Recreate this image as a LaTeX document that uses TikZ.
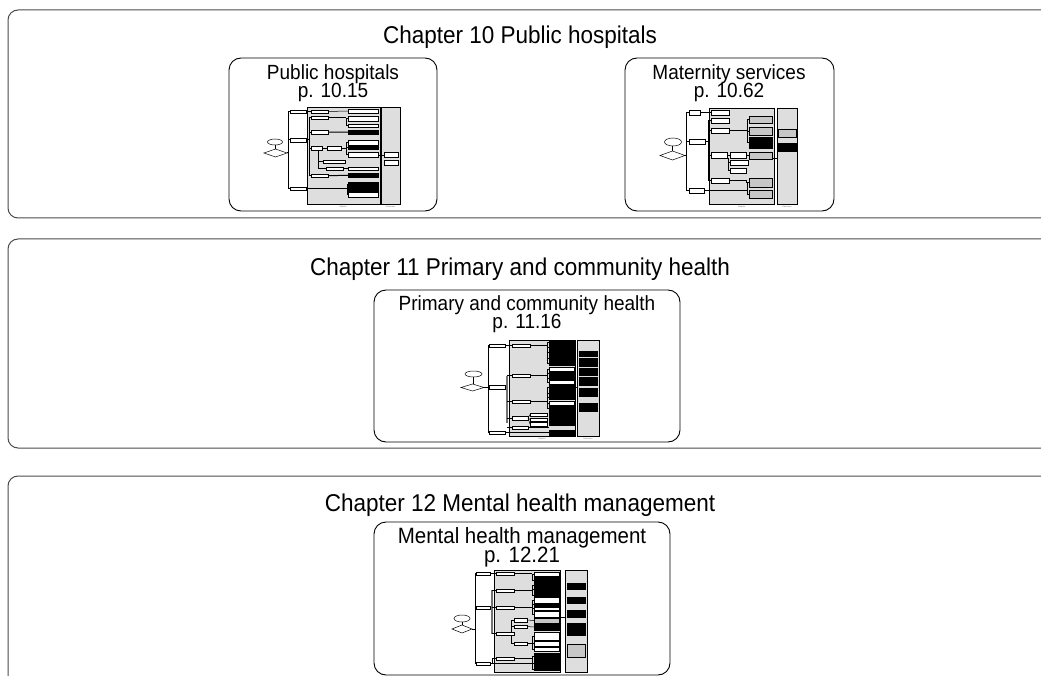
\documentclass[tikz,border=0pt]{standalone}
\usepackage{fontspec}
\setmainfont{Liberation Sans}
\newcommand\thW[4]{\draw[thw] (#1,#2) rectangle (#3,#4);}
\newcommand\thB[4]{\draw[thb] (#1,#2) rectangle (#3,#4);}
\newcommand\thG[4]{\draw[thg] (#1,#2) rectangle (#3,#4);}
\newcommand\tallT[1]{\scalebox{1}[1.08]{#1}}
\begin{document}
\begin{tikzpicture}[x=1pt,y=-1pt,
 panel/.style={draw=black!70, line width=1pt, rounded corners=10pt},
 subbox/.style={draw=black, line width=0.9pt, rounded corners=12pt, fill=white},
 chap/.style={font=\fontsize{22.5}{26}\selectfont, anchor=base, inner sep=0pt},
 sub/.style={font=\fontsize{19}{20}\selectfont, anchor=base, inner sep=0pt},
 thw/.style={draw=black, fill=white, line width=0.4pt},
 thb/.style={draw=black, fill=black, line width=0.4pt},
 thg/.style={draw=black, fill=black!22, line width=0.4pt},
 thl/.style={line width=0.5pt},
 thk/.style={line width=1pt},
 thgr/.style={line width=1.6pt, draw=black!55},
 pan/.style={draw=black, fill=black!13, line width=0.5pt},
 tinyt/.style={font=\fontsize{2}{2}\selectfont, inner sep=0pt, text=black!60}]
\useasboundingbox (0,0) rectangle (1041,676);
\clip (0,0) rectangle (1041,676);
\fill[white] (0,0) rectangle (1041,676);

% ---------- outer chapter panels ----------
\draw[panel] (1060,10) -- (8,10) -- (8,218) -- (1060,218);
\draw[panel] (1060,239) -- (8,239) -- (8,448) -- (1060,448);
\draw[panel] (1060,476) -- (8,476) -- (8,700);

\node[chap] (c10) at (520,44) {\tallT{Chapter 10 Public hospitals}};
\node[chap] (c11) at (520,276) {\tallT{Chapter 11 Primary and community health}};
\node[chap] (c12) at (520,511) {\tallT{Chapter 12 Mental health management}};

% ---------- sub boxes ----------
\node[subbox, minimum width=208pt, minimum height=153pt] (b1) at (333,134.5) {};
\node[subbox, minimum width=209pt, minimum height=153pt] (b2) at (729.5,134.5) {};
\node[subbox, minimum width=306pt, minimum height=152pt] (b3) at (527,366) {};
\node[subbox, minimum width=296pt, minimum height=153pt] (b4) at (522,598.5) {};

\node[sub] (t1a) at (333,79.5) {\tallT{Public hospitals}};
\node[sub] (t1b) at (333,97.5) {\tallT{p. 10.15}};
\node[sub] (t2a) at (729,79.5) {\tallT{Maternity services}};
\node[sub] (t2b) at (729,97.5) {\tallT{p. 10.62}};
\node[sub] (t3a) at (527,310.5) {\tallT{Primary and community health}};
\node[sub] (t3b) at (527,328.5) {\tallT{p. 11.16}};
\node[sub, font=\fontsize{20.5}{21}\selectfont] (t4a) at (522,543) {\tallT{Mental health management}};
\node[sub, font=\fontsize{20.5}{21}\selectfont] (t4b) at (522,562) {\tallT{p. 12.21}};

% ---------- thumbnail 1: public hospitals ----------
\draw[pan] (307,107) rectangle (380,204);
\draw[pan] (381,107) rectangle (400,204);
\node[tinyt] at (343,207) {Outputs};
\node[tinyt] at (390.5,207) {Outcomes};
\draw[thl,fill=white] (275,142) ellipse (7.5 and 3);
\draw[thl] (275.5,145) -- (275.5,149);
\draw[thl,fill=white] (264,153) -- (275.5,149) -- (287,153) -- (275.5,157) -- cycle;
\draw[thk] (287,153) -- (288,153);
\draw[thk] (290,111.75) -- (288,111.75) -- (288,188.75) -- (290,188.75);
\draw[thk] (288,140) -- (290,140);
\thW{290}{110}{306}{113.5}
\thW{290}{138}{306}{142}
\thW{290}{187}{306}{190.5}
\draw[thl] (306,111.75) -- (311,111.75);
\draw[thk] (306,140) -- (309,140);
\draw[thl] (309,117.75) -- (309,175.75);
\foreach \yy in {117.75,132,148,175.75} \draw[thl] (309,\yy) -- (311,\yy);
\thW{311}{110}{328}{113.5}
\thW{311}{116}{328}{119.5}
\thW{311}{130}{328}{134}
\thW{311}{146}{322}{150}
\thW{311}{174}{328}{177.5}
\draw[thl] (322,148) -- (327,148);
\draw[thl] (318,150) -- (318,168.75) -- (326,168.75);
\draw[thl] (318,161.75) -- (323,161.75);
\thW{327}{146}{341}{150}
\thW{323}{160}{345}{163.5}
\thW{326}{167}{343}{170.5}
\draw[thl] (328,111.5) -- (348,111);
\draw[thl] (328,117.75) -- (346,117.75);
\draw[thl] (346,118.5) -- (346,125.75);
\foreach \yy in {118.5,125.75} \draw[thl] (346,\yy) -- (348,\yy);
\draw[thk] (328,132) -- (348,132.25);
\draw[thl] (341,148) -- (346,148);
\draw[thl] (346,142.5) -- (346,154.5);
\foreach \yy in {142.5,147.75,154.5} \draw[thl] (346,\yy) -- (348,\yy);
\draw[thl] (343,168.75) -- (348,168.75);
\draw[thk] (328,175.75) -- (348,175.25);
\draw[thk] (306,188.75) -- (347,188.75);
\draw[thl] (347,184) -- (347,194.5);
\foreach \yy in {184,194.5} \draw[thl] (347,\yy) -- (348,\yy);
\thW{348}{109}{378}{113}
\thW{348}{116}{378}{121}
\thW{348}{124}{378}{127.5}
\thB{348}{130}{378}{134.5}
\thW{348}{140}{378}{145}
\thB{348}{146}{378}{149.5}
\thW{348}{152}{378}{157}
\thW{348}{167}{378}{170.5}
\thB{348}{173}{378}{177.5}
\thB{348}{182}{378}{186}
\thB{348}{187}{378}{191}
\thW{348}{192}{378}{197}
\draw[thl] (378,155) -- (384,155);
\thW{384}{152}{398}{157}
\thW{384}{160}{398}{165}

% ---------- thumbnail 2: maternity ----------
\draw[pan] (709,108) rectangle (774,204);
\draw[pan] (777,108) rectangle (797,204);
\node[tinyt] at (741.5,207) {Outputs};
\node[tinyt] at (787,207) {Outcomes};
\draw[thl,fill=white] (673,142) ellipse (8.5 and 4);
\draw[thl] (672.5,146) -- (672.5,151);
\draw[thl,fill=white] (660,155.5) -- (672.5,151) -- (685,155.5) -- (672.5,160) -- cycle;
\draw[thk] (685,155.5) -- (686,155.5);
\draw[thk] (689,112.5) -- (686,112.5) -- (686,190.5) -- (689,190.5);
\draw[thk] (686,141.5) -- (689,141.5);
\thW{689}{110}{700}{115}
\thW{689}{139}{705}{144}
\thW{689}{188}{704}{193}
\draw[thl] (700,112.5) -- (711,112.5);
\draw[thk] (705,141.5) -- (708,141.5);
\draw[thk] (708,120.5) -- (708,180.5);
\foreach \yy in {120.5,130.5,155,180.5} \draw[thl] (708,\yy) -- (711,\yy);
\thW{711}{110}{729}{115}
\thW{711}{118}{729}{123}
\thW{711}{128}{729}{133}
\thW{711}{152}{727}{158}
\thW{711}{178}{729}{183}
\draw[thl] (727,155) -- (730,155);
\draw[thl] (728,158) -- (728,170.5) -- (730,170.5);
\draw[thl] (728,162.5) -- (730,162.5);
\thW{730}{152}{746}{158}
\thW{730}{160}{748}{165}
\thW{730}{168}{746}{173}
\draw[thk] (729,130.5) -- (747,130.5);
\draw[thk] (747,119.5) -- (747,142.5);
\foreach \yy in {119.5,131,142.5} \draw[thl] (747,\yy) -- (749,\yy);
\draw[thl] (746,155.5) -- (749,155.5);
\draw[thl] (729,180.5) -- (746,180.5) -- (746,182.5) -- (749,182.5);
\draw[line width=1.4pt] (704,190.5) -- (747,190.5);
\draw[thk] (747,182.5) -- (747,194);
\draw[thl] (747,194) -- (749,194);
\thG{749}{116}{772}{123}
\thG{749}{127}{772}{135}
\thB{749}{137}{772}{148}
\thG{749}{152}{772}{159}
\thG{749}{178}{772}{187}
\thG{749}{190}{772}{198}
\draw[thl] (772,158.5) -- (778,158.5);
\thG{778}{129}{796}{137}
\thB{778}{143}{796}{151}

% ---------- thumbnail 3: primary and community health ----------
\draw[pan] (509,340) rectangle (575,436);
\draw[pan] (577,340) rectangle (599,436);
\node[tinyt] at (542,439) {Outputs};
\node[tinyt] at (588,439) {Outcomes};
\draw[thl,fill=white] (473.5,374) ellipse (8.5 and 3);
\draw[thl] (473,377) -- (473,384);
\draw[thl,fill=white] (461,387.5) -- (472.5,384) -- (484,387.5) -- (472.5,391) -- cycle;
\draw[thk] (484,387.5) -- (488,387.5);
\draw[thk] (489,345.5) -- (488,345.5) -- (488,432.5) -- (489,432.5);
\thW{489}{344}{505}{347}
\thW{489}{385}{505}{389}
\thW{489}{431}{505}{434}
\draw[thl] (505,345.5) -- (512,345.5);
\draw[thk] (505,387) -- (507,387);
\draw[thgr] (507,375.5) -- (507,423);
\foreach \yy in {375.5,401.5,418,427.5} \draw[thl] (507,\yy) -- (512,\yy);
\thW{512}{344}{530}{347}
\thW{512}{374}{530}{377}
\thW{512}{400}{530}{403}
\thW{512}{416}{528}{420}
\thW{512}{426}{528}{429}
\draw[thl] (528,418) -- (530,414.5);
\draw[thl] (528,418) -- (530,419.5);
\draw[thl] (528,418) -- (530,424);
\thW{530}{413}{547}{416}
\thW{530}{418}{547}{421}
\thW{530}{422}{547}{426}
\draw[thk] (530,345.5) -- (547,345.5);
\draw[thl] (547,342) -- (547,363);
\foreach \yy in {342,347.5,352.5,358,363} \draw[thl] (547,\yy) -- (549,\yy);
\draw[thk] (530,375.5) -- (547,375.5);
\draw[thl] (547,369) -- (547,382);
\foreach \yy in {369,373,378,382} \draw[thl] (547,\yy) -- (549,\yy);
\draw[thk] (530,401.5) -- (547,401.5);
\draw[thl] (547,387.5) -- (547,408.5);
\foreach \yy in {387.5,393,397,403,408.5} \draw[thl] (547,\yy) -- (549,\yy);
\draw[thl] (528,427.5) -- (549,427.5);
\draw[thk] (505,432.5) -- (549,432.5);
\thB{549}{340}{574}{344}
\thB{549}{345}{574}{350}
\thB{549}{350.5}{574}{355}
\thB{549}{356}{574}{360}
\thB{549}{361}{574}{365}
\thW{549}{367}{574}{371}
\thB{549}{371.5}{574}{375}
\thB{549}{376}{574}{380}
\thW{549}{380.5}{574}{384}
\thB{549}{385}{574}{390}
\thB{549}{391}{574}{395}
\thB{549}{395.5}{574}{399}
\thW{549}{401}{574}{405}
\thB{549}{406}{574}{411}
\thB{549}{412}{574}{416}
\thB{549}{416.5}{574}{420}
\thB{549}{421}{574}{425}
\thB{549}{430}{574}{435}
\draw[thl] (574,387) -- (577,387);
\thB{579}{351}{597}{356}
\thB{579}{358}{597}{366}
\thB{579}{368}{597}{375}
\thB{579}{377}{597}{385}
\thB{579}{388}{597}{396}
\thB{579}{403}{597}{411}

% ---------- thumbnail 4: mental health ----------
\draw[pan] (494,570) rectangle (560,672);
\draw[pan] (565,570) rectangle (587,672);
\draw[thl,fill=white] (462,618.5) ellipse (8 and 3.5);
\draw[thl] (462,622) -- (462,625);
\draw[thl,fill=white] (452,629) -- (462,625) -- (472,629) -- (462,633) -- cycle;
\draw[thk] (472,629) -- (475,629);
\draw[thk] (476,573.5) -- (475,573.5) -- (475,663.5) -- (476,663.5);
\thW{476}{572}{490}{575}
\thW{476}{606}{490}{609}
\thW{476}{662}{490}{665}
\draw[thl] (490,573.5) -- (496,573.5);
\draw[thk] (490,607.5) -- (492,607.5);
\draw[thgr] (492,590) -- (492,633.5);
\foreach \yy in {590.5,607.5,633.5} \draw[thl] (492,\yy) -- (496,\yy);
\draw[thl] (490,663.5) -- (492,663.5) -- (492,658.5) -- (496,658.5);
\thW{496}{572}{514}{575}
\thW{496}{589}{514}{592}
\thW{496}{606}{514}{609}
\thW{496}{632}{514}{635}
\thW{496}{657}{514}{660}
\draw[thl] (511,632) -- (511,620) -- (514,620);
\draw[thl] (511,635) -- (511,643.5) -- (514,643.5);
\draw[thl] (511,626.5) -- (514,626.5);
\thW{514}{618}{527}{622}
\thW{514}{625}{527}{628}
\thW{514}{642}{527}{645}
\draw[thk] (514,573.5) -- (532,573.5);
\draw[thl] (532,574) -- (532,580);
\foreach \yy in {574,580} \draw[thl] (532,\yy) -- (534,\yy);
\draw[thk] (514,590.5) -- (532,590.5);
\draw[thl] (532,585) -- (532,595);
\foreach \yy in {585,589.5,595} \draw[thl] (532,\yy) -- (534,\yy);
\draw[thk] (514,607.5) -- (532,607.5);
\draw[thl] (532,600) -- (532,614);
\foreach \yy in {600,604.5,608.5,614} \draw[thl] (532,\yy) -- (534,\yy);
\draw[thl] (527,620) -- (534,620.5);
\draw[thl] (527,626.5) -- (534,627);
\draw[thl] (527,643.5) -- (532,643.5);
\draw[thl] (532,636) -- (532,649);
\foreach \yy in {636,643.5,649} \draw[thl] (532,\yy) -- (534,\yy);
\draw[thk] (514,658.5) -- (532,658.5);
\draw[thl] (532,656.5) -- (532,669);
\foreach \yy in {656.5,663.5,669} \draw[thl] (532,\yy) -- (534,\yy);
\draw[thk] (490,663.5) -- (532,663.5);
\thW{534}{572}{559}{576}
\thB{534}{577}{559}{582.5}
\thB{534}{583}{559}{587}
\thB{534}{587.5}{559}{592}
\thB{534}{593}{559}{597}
\thW{534}{597.5}{559}{603}
\thB{534}{603.5}{559}{606}
\thW{534}{607}{559}{610}
\thW{534}{611}{559}{617}
\thG{534}{618}{559}{623}
\thB{534}{624}{559}{630}
\thW{534}{632}{559}{640}
\thW{534}{641}{559}{646}
\thW{534}{647}{559}{651}
\thB{534}{653}{559}{659.5}
\thB{534}{660}{559}{665}
\thB{534}{665.5}{559}{670.5}
\draw[thl] (559,617) -- (565,617);
\thB{567}{583}{585}{589}
\thB{567}{597}{585}{603}
\thB{567}{610}{585}{617}
\thB{567}{623}{585}{635}
\thG{567}{644}{585}{657}
\end{tikzpicture}
\end{document}
